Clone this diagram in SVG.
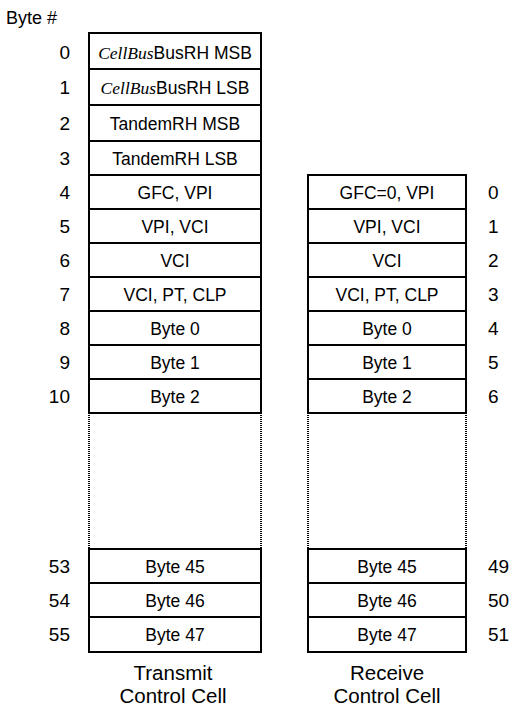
<svg xmlns="http://www.w3.org/2000/svg" width="509" height="708" viewBox="0 0 509 708">
<style>
.box{fill:#fff;stroke:#000;stroke-width:2}
.dot{stroke:#000;stroke-width:2;stroke-dasharray:1,1;fill:none}
.lbl{font-family:"Liberation Sans",Arial,sans-serif;font-size:17.5px;text-anchor:middle;fill:#000}
.it{font-family:"Liberation Serif","Times New Roman",serif;font-style:italic}
.num{font-family:"Liberation Sans",Arial,sans-serif;font-size:19px;fill:#000}
.hdr{font-family:"Liberation Sans",Arial,sans-serif;font-size:18px;fill:#000}
.l{text-anchor:end}
.title{font-family:"Liberation Sans",Arial,sans-serif;font-size:20.5px;text-anchor:middle;fill:#000}
</style>
<text class="hdr" x="6" y="24">Byte #</text>
<g id="transmit">
<g id="t0"><rect class="box" x="89" y="33" width="172" height="36"/><text class="lbl" x="175" y="59"><tspan class="it">CellBus</tspan>BusRH MSB</text><text class="num l" x="70" y="59">0</text></g>
<g id="t1"><rect class="box" x="89" y="69" width="172" height="36"/><text class="lbl" x="175" y="94"><tspan class="it">CellBus</tspan>BusRH LSB</text><text class="num l" x="70" y="94">1</text></g>
<g id="t2"><rect class="box" x="89" y="105" width="172" height="36"/><text class="lbl" x="175" y="130">TandemRH MSB</text><text class="num l" x="70" y="130">2</text></g>
<g id="t3"><rect class="box" x="89" y="141" width="172" height="34"/><text class="lbl" x="175" y="165">TandemRH LSB</text><text class="num l" x="70" y="165">3</text></g>
<g id="t4"><rect class="box" x="89" y="175" width="172" height="34"/><text class="lbl" x="175" y="199">GFC, VPI</text><text class="num l" x="70" y="199">4</text></g>
<g id="t5"><rect class="box" x="89" y="209" width="172" height="34"/><text class="lbl" x="175" y="233">VPI, VCI</text><text class="num l" x="70" y="233">5</text></g>
<g id="t6"><rect class="box" x="89" y="243" width="172" height="34"/><text class="lbl" x="175" y="267">VCI</text><text class="num l" x="70" y="267">6</text></g>
<g id="t7"><rect class="box" x="89" y="277" width="172" height="34"/><text class="lbl" x="175" y="301">VCI, PT, CLP</text><text class="num l" x="70" y="301">7</text></g>
<g id="t8"><rect class="box" x="89" y="311" width="172" height="34"/><text class="lbl" x="175" y="335">Byte 0</text><text class="num l" x="70" y="335">8</text></g>
<g id="t9"><rect class="box" x="89" y="345" width="172" height="34"/><text class="lbl" x="175" y="369">Byte 1</text><text class="num l" x="70" y="369">9</text></g>
<g id="t10"><rect class="box" x="89" y="379" width="172" height="34"/><text class="lbl" x="175" y="403">Byte 2</text><text class="num l" x="70" y="403">10</text></g>
<g id="tgap"><line class="dot" x1="89" y1="413" x2="89" y2="549"/><line class="dot" x1="261" y1="413" x2="261" y2="549"/></g>
<g id="t53"><rect class="box" x="89" y="549" width="172" height="34"/><text class="lbl" x="175" y="573">Byte 45</text><text class="num l" x="70" y="573">53</text></g>
<g id="t54"><rect class="box" x="89" y="583" width="172" height="34"/><text class="lbl" x="175" y="607">Byte 46</text><text class="num l" x="70" y="607">54</text></g>
<g id="t55"><rect class="box" x="89" y="617" width="172" height="35"/><text class="lbl" x="175" y="641">Byte 47</text><text class="num l" x="70" y="641">55</text></g>
<text class="title" x="173" y="680">Transmit</text>
<text class="title" x="173" y="703">Control Cell</text>
</g>
<g id="receive">
<g id="r0"><rect class="box" x="308" y="175" width="158" height="34"/><text class="lbl" x="387" y="199">GFC=0, VPI</text><text class="num" x="488" y="199">0</text></g>
<g id="r1"><rect class="box" x="308" y="209" width="158" height="34"/><text class="lbl" x="387" y="233">VPI, VCI</text><text class="num" x="488" y="233">1</text></g>
<g id="r2"><rect class="box" x="308" y="243" width="158" height="34"/><text class="lbl" x="387" y="267">VCI</text><text class="num" x="488" y="267">2</text></g>
<g id="r3"><rect class="box" x="308" y="277" width="158" height="34"/><text class="lbl" x="387" y="301">VCI, PT, CLP</text><text class="num" x="488" y="301">3</text></g>
<g id="r4"><rect class="box" x="308" y="311" width="158" height="34"/><text class="lbl" x="387" y="335">Byte 0</text><text class="num" x="488" y="335">4</text></g>
<g id="r5"><rect class="box" x="308" y="345" width="158" height="34"/><text class="lbl" x="387" y="369">Byte 1</text><text class="num" x="488" y="369">5</text></g>
<g id="r6"><rect class="box" x="308" y="379" width="158" height="34"/><text class="lbl" x="387" y="403">Byte 2</text><text class="num" x="488" y="403">6</text></g>
<g id="rgap"><line class="dot" x1="308" y1="413" x2="308" y2="549"/><line class="dot" x1="466" y1="413" x2="466" y2="549"/></g>
<g id="r49"><rect class="box" x="308" y="549" width="158" height="34"/><text class="lbl" x="387" y="573">Byte 45</text><text class="num" x="488" y="573">49</text></g>
<g id="r50"><rect class="box" x="308" y="583" width="158" height="34"/><text class="lbl" x="387" y="607">Byte 46</text><text class="num" x="488" y="607">50</text></g>
<g id="r51"><rect class="box" x="308" y="617" width="158" height="35"/><text class="lbl" x="387" y="641">Byte 47</text><text class="num" x="488" y="641">51</text></g>
<text class="title" x="387" y="680">Receive</text>
<text class="title" x="387" y="703">Control Cell</text>
</g>
<g id="connectors"/>
</svg>
